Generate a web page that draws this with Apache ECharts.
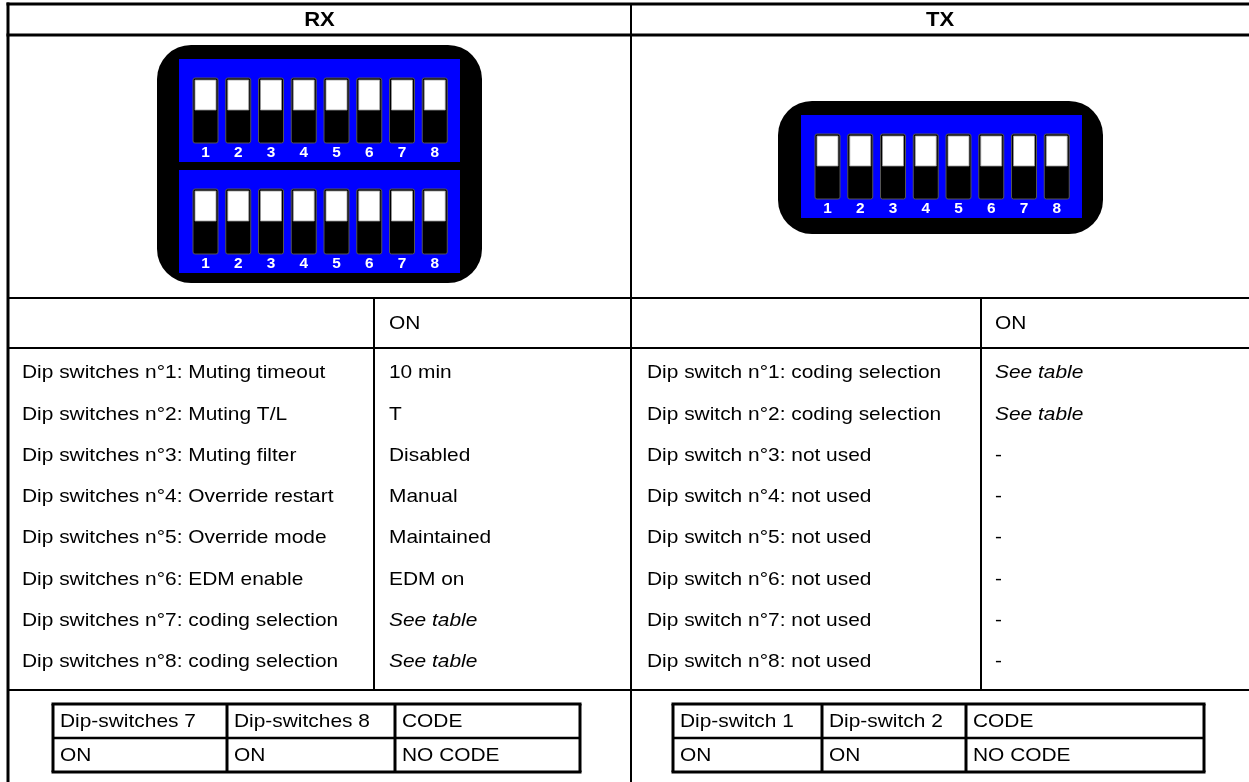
<!DOCTYPE html>
<html><head><meta charset="utf-8">
<script src="https://cdn.jsdelivr.net/npm/echarts@6/dist/echarts.min.js"></script>
<style>html,body{margin:0;padding:0;background:#fff}#c{width:1249px;height:782px}</style>
</head><body><div id="c"></div>
<script>
// ---------- data ----------
const sectionTitles = ['RX', 'TX'];
const stateHeader = ['ON', 'ON'];
const switchNumbers = ['1', '2', '3', '4', '5', '6', '7', '8'];
const rxBanks = ['upper', 'lower'];
const txBanks = ['single'];
const rxLabels = [
  'Dip switches n°1: Muting timeout',
  'Dip switches n°2: Muting T/L',
  'Dip switches n°3: Muting filter',
  'Dip switches n°4: Override restart',
  'Dip switches n°5: Override mode',
  'Dip switches n°6: EDM enable',
  'Dip switches n°7: coding selection',
  'Dip switches n°8: coding selection'
];
const rxValues = ['10 min', 'T', 'Disabled', 'Manual', 'Maintained', 'EDM on', 'See table', 'See table'];
const txLabels = [
  'Dip switch n°1: coding selection',
  'Dip switch n°2: coding selection',
  'Dip switch n°3: not used',
  'Dip switch n°4: not used',
  'Dip switch n°5: not used',
  'Dip switch n°6: not used',
  'Dip switch n°7: not used',
  'Dip switch n°8: not used'
];
const txValues = ['See table', 'See table', '-', '-', '-', '-', '-', '-'];
const rxCodeHeader = ['Dip-switches 7', 'Dip-switches 8', 'CODE'];
const rxCodeRow = ['ON', 'ON', 'NO CODE'];
const txCodeHeader = ['Dip-switch 1', 'Dip-switch 2', 'CODE'];
const txCodeRow = ['ON', 'ON', 'NO CODE'];

// ---------- layout (axis units = pixels) ----------
const W = 1249, H = 782;
const FONT = '"Liberation Sans", Arial, sans-serif';
const BODY_SIZE = 19, BODY_SX = 1.1;
const LAY = {
  left: 8, mid: 631, top: 4, headBottom: 35, imgBottom: 298,
  onBottom: 348, rowsBottom: 690, bottom: 782,
  rxValCol: 374, txValCol: 981,
  headerY: 20, onY: 324, rowFirst: 373, rowStep: 41.3,
  rxLabelX: 22, rxValX: 389, txLabelX: 647, txValX: 995,
  codeTables: [
    { cols: [53, 227, 395, 580], rows: [704, 738, 772] },
    { cols: [673, 822, 966, 1204], rows: [704, 738, 772] }
  ],
  bodies: [
    { x: 157, y: 45, w: 325, h: 238 },
    { x: 778, y: 101, w: 325, h: 133 }
  ],
  panels: [
    { x: 179, y: 59 }, { x: 179, y: 170 }, { x: 801, y: 115 }
  ],
  panelW: 281, panelH: 103, slotX: 14, slotPitch: 32.75, slotW: 25,
  slotTop: 19, slotH: 65, knobH: 30, numY: 94
};

function P(api, x, y) { return api.coord([x, y]); }
function ln(api, x1, y1, x2, y2, w) {
  const a = P(api, x1, y1), b = P(api, x2, y2);
  return { type: 'line', shape: { x1: a[0], y1: a[1], x2: b[0], y2: b[1] }, style: { stroke: '#000', lineWidth: w } };
}
function tx(api, x, y, text, opt) {
  const p = P(api, x, y);
  opt = opt || {};
  return {
    type: 'text', x: p[0], y: p[1], scaleX: opt.sx || BODY_SX, scaleY: 1,
    style: {
      text: text, fill: opt.fill || '#000',
      font: (opt.style || 'normal') + ' ' + (opt.weight || 'normal') + ' ' + (opt.size || BODY_SIZE) + 'px ' + FONT,
      align: opt.align || 'left', verticalAlign: 'middle'
    }
  };
}
function rect(api, x, y, w, h, fill, r, stroke, lw) {
  const p = P(api, x, y), s = api.size([w, h]);
  return { type: 'rect', shape: { x: p[0], y: p[1], width: s[0], height: s[1], r: r || 0 },
    style: { fill: fill, stroke: stroke || null, lineWidth: lw || 0 } };
}

// frame
function renderFrame(params, api) {
  const L = LAY, ch = [];
  ch.push(ln(api, L.left - 1.5, L.top, W, L.top, 3));
  ch.push(ln(api, L.left - 1.5, L.headBottom, W, L.headBottom, 3));
  ch.push(ln(api, L.left, L.top - 1.5, L.left, L.bottom, 3));
  ch.push(ln(api, L.mid, L.top, L.mid, L.bottom, 2));
  ch.push(ln(api, L.left, L.imgBottom, W, L.imgBottom, 2));
  ch.push(ln(api, L.left, L.onBottom, W, L.onBottom, 2));
  ch.push(ln(api, L.left, L.rowsBottom, W, L.rowsBottom, 2));
  ch.push(ln(api, L.rxValCol, L.imgBottom, L.rxValCol, L.rowsBottom, 2));
  ch.push(ln(api, L.txValCol, L.imgBottom, L.txValCol, L.rowsBottom, 2));
  ch.push(tx(api, (L.left + L.mid) / 2, L.headerY, sectionTitles[0], { weight: 'bold', size: 21, align: 'center', sx: 1.05 }));
  ch.push(tx(api, (L.mid + W) / 2, L.headerY, sectionTitles[1], { weight: 'bold', size: 21, align: 'center', sx: 1.05 }));
  ch.push(tx(api, L.rxValX, L.onY, stateHeader[0], {}));
  ch.push(tx(api, L.txValX, L.onY, stateHeader[1], {}));
  return { type: 'group', children: ch };
}

// rows
function renderRow(params, api) {
  const i = api.value(0), L = LAY, y = L.rowFirst + i * L.rowStep;
  const it = v => v === 'See table' ? 'italic' : 'normal';
  return { type: 'group', children: [
    tx(api, L.rxLabelX, y, rxLabels[i], {}),
    tx(api, L.rxValX, y, rxValues[i], { style: it(rxValues[i]) }),
    tx(api, L.txLabelX, y, txLabels[i], {}),
    tx(api, L.txValX, y, txValues[i], { style: it(txValues[i]) })
  ] };
}

// DIP switch bodies and panels
function renderBody(params, api) {
  const b = LAY.bodies[api.value(0)];
  return rect(api, b.x, b.y, b.w, b.h, '#000', 34);
}
function renderPanel(params, api) {
  const p = LAY.panels[api.value(0)];
  return rect(api, p.x, p.y, LAY.panelW, LAY.panelH, '#0000FF', 0);
}
function renderSwitch(params, api) {
  const L = LAY, p = L.panels[api.value(0)], i = api.value(1);
  const x = p.x + L.slotX + i * L.slotPitch, y = p.y + L.slotTop;
  return { type: 'group', children: [
    rect(api, x, y, L.slotW, L.slotH, '#000', 2, '#555', 1),
    rect(api, x + 2, y + 2, L.slotW - 4, L.knobH, '#fff', 0, '#999', 0.8),
    tx(api, x + L.slotW / 2, p.y + L.numY, switchNumbers[i], { weight: 'bold', size: 14, fill: '#fff', align: 'center', sx: 1.1 })
  ] };
}

// code tables
function renderCode(params, api) {
  const t = api.value(0), L = LAY, g = L.codeTables[t];
  const head = t === 0 ? rxCodeHeader : txCodeHeader;
  const row = t === 0 ? rxCodeRow : txCodeRow;
  const ch = [];
  const c = g.cols, r = g.rows;
  ch.push(ln(api, c[0] - 1.5, r[0], c[3] + 1.5, r[0], 3));
  ch.push(ln(api, c[0], r[1], c[3], r[1], 2.5));
  ch.push(ln(api, c[0] - 1.5, r[2], c[3] + 1.5, r[2], 3));
  for (let k = 0; k < 4; k++) ch.push(ln(api, c[k], r[0], c[k], r[2], 3));
  for (let k = 0; k < 3; k++) {
    ch.push(tx(api, c[k] + 7, (r[0] + r[1]) / 2 + 1, head[k], {}));
    ch.push(tx(api, c[k] + 7, (r[1] + r[2]) / 2 + 1, row[k], {}));
  }
  return { type: 'group', children: ch };
}

const switchData = [];
[...rxBanks, ...txBanks].forEach((b, pi) => switchNumbers.forEach((n, i) => switchData.push([pi, i])));

const chart = echarts.init(document.getElementById('c'), null, { renderer: 'canvas' });
const common = { type: 'custom', coordinateSystem: 'cartesian2d', silent: true, clip: false, animation: false, encode: { x: 0, y: 1 } };
chart.setOption({
  animation: false,
  grid: { left: 0, right: 0, top: 0, bottom: 0 },
  xAxis: { type: 'value', min: 0, max: W, show: false },
  yAxis: { type: 'value', min: 0, max: H, inverse: true, show: false },
  series: [
    Object.assign({}, common, { name: 'frame', renderItem: renderFrame, data: [[0, 0]] }),
    Object.assign({}, common, { name: 'rows', renderItem: renderRow, data: rxLabels.map((_, i) => [i, 0]) }),
    Object.assign({}, common, { name: 'bodies', renderItem: renderBody, data: [[0, 0], [1, 0]], z: 2 }),
    Object.assign({}, common, { name: 'panels', renderItem: renderPanel, data: [[0, 0], [1, 0], [2, 0]], z: 3 }),
    Object.assign({}, common, { name: 'switches', renderItem: renderSwitch, data: switchData, z: 4 }),
    Object.assign({}, common, { name: 'codes', renderItem: renderCode, data: [[0, 0], [1, 0]] })
  ]
});
</script></body></html>
